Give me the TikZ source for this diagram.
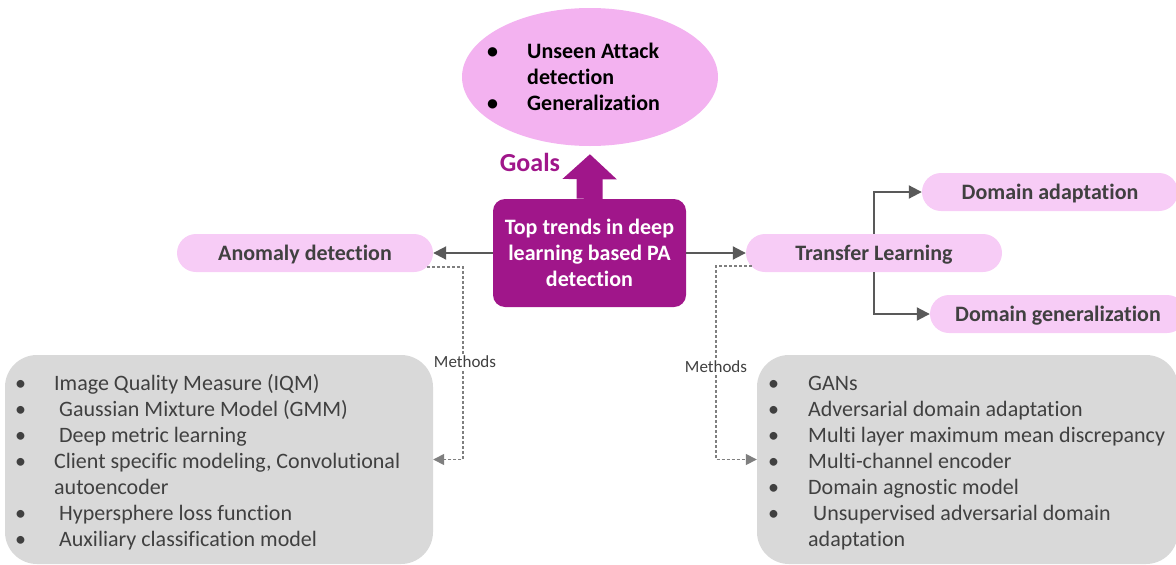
\documentclass[tikz,border=0pt]{standalone}
\usepackage{fontspec}
\setmainfont{Carlito}[Ligatures={TeX,NoCommon}]
\usetikzlibrary{arrows.meta,shapes.geometric,calc}
\definecolor{pur}{RGB}{160,22,138}
\definecolor{pill}{RGB}{247,204,246}
\definecolor{ell}{RGB}{243,178,240}
\definecolor{boxg}{RGB}{217,217,217}
\definecolor{txt}{RGB}{64,64,64}
\definecolor{arrg}{RGB}{89,89,89}
\definecolor{dashg}{RGB}{127,127,127}
\begin{document}
\begin{tikzpicture}[x=1pt,y=-1pt,
  pillbox/.style={fill=pill, rounded corners=19pt, minimum width=256pt, minimum height=38pt,
    text height=18pt, text depth=4pt,
    font=\fontsize{22}{26}\selectfont\bfseries, text=txt, inner sep=0pt},
  graybox/.style={fill=boxg, rounded corners=32pt, inner sep=0pt},
  itemtext/.style={anchor=base west, inner sep=0pt, font=\fontsize{22}{26}\selectfont, text=txt},
  goaltext/.style={anchor=base west, inner sep=0pt, font=\fontsize{22}{26}\selectfont\bfseries, text=black},
  solidarr/.style={draw=arrg, line width=2pt, -{Triangle[length=13pt,width=13pt]}, color=arrg},
  dasharr/.style={draw=dashg, line width=1.5pt, dash pattern=on 3pt off 2pt, -{Triangle[length=11pt,width=11pt]}, color=dashg},
  methlabel/.style={fill=white, inner sep=1pt, font=\fontsize{17}{19}\selectfont, text=txt}
]
\useasboundingbox (0,0) rectangle (1176,565);
\clip (0,0) rectangle (1176,565);

% goals ellipse
\node[ellipse, fill=ell, minimum width=256pt, minimum height=138pt, inner sep=0pt] (goal) at (590,77) {};
\node[goaltext] (g1) at (487,58) {\makebox[40pt][l]{\textbullet}Unseen Attack};
\node[goaltext] (g2) at (527,84) {detection};
\node[goaltext] (g3) at (487,110) {\makebox[40pt][l]{\textbullet}Generalization};

% central box
\node[fill=pur, rounded corners=12pt, minimum width=193pt, minimum height=108pt, inner sep=0pt,
  align=center, text=white, font=\fontsize{22}{26}\selectfont\bfseries] (ctr) at (589.5,253)
  {Top trends in deep\\learning based PA\\detection};

% thick goals arrow
\draw[pur, line width=26pt, -{Triangle[length=25pt,width=53pt]}, shorten >=8pt] (ctr.north) -- (goal.south);
\node[anchor=base, inner sep=0pt, text=pur, font=\fontsize{26}{30}\selectfont\bfseries] (goalslbl) at (530,171) {Goals};

% pills
\node[pillbox] (anom) at (305,253) {Anomaly detection};
\node[pillbox] (tl) at (874,253) {Transfer Learning};
\node[pillbox] (da) at (1050,192) {Domain adaptation};
\node[pillbox] (dg) at (1058,314) {Domain generalization};

% solid connectors
\draw[solidarr] (ctr.west) -- (anom.east);
\draw[solidarr] (ctr.east) -- (tl.west);
\draw[solidarr] (tl.north) |- (da.west);
\draw[solidarr] (tl.south) |- (dg.west);

% gray boxes
\node[graybox, minimum width=428pt, minimum height=209pt] (lbox) at (219,459.5) {};
\node[graybox, minimum width=421pt, minimum height=209pt] (rbox) at (967.5,459.5) {};

% left list
\node[itemtext] (l1) at (15,390) {\makebox[39pt][l]{\textbullet}Image Quality Measure (IQM)};
\node[itemtext] (l2) at (15,416) {\makebox[44pt][l]{\textbullet}Gaussian Mixture Model (GMM)};
\node[itemtext] (l3) at (15,442) {\makebox[44pt][l]{\textbullet}Deep metric learning};
\node[itemtext] (l4) at (15,468) {\makebox[39pt][l]{\textbullet}Client specific modeling, Convolutional};
\node[itemtext] (l5) at (54,494) {autoencoder};
\node[itemtext] (l6) at (15,520) {\makebox[44pt][l]{\textbullet}Hypersphere loss function};
\node[itemtext] (l7) at (15,546) {\makebox[44pt][l]{\textbullet}Auxiliary classification model};

% right list
\node[itemtext] (r1) at (768,390) {\makebox[40pt][l]{\textbullet}GANs};
\node[itemtext] (r2) at (768,416) {\makebox[40pt][l]{\textbullet}Adversarial domain adaptation};
\node[itemtext] (r3) at (768,442) {\makebox[40pt][l]{\textbullet}Multi layer maximum mean discrepancy};
\node[itemtext] (r4) at (768,468) {\makebox[40pt][l]{\textbullet}Multi-channel encoder};
\node[itemtext] (r5) at (768,494) {\makebox[40pt][l]{\textbullet}Domain agnostic model};
\node[itemtext] (r6) at (768,520) {\makebox[45pt][l]{\textbullet}Unsupervised adversarial domain};
\node[itemtext] (r7) at (808,546) {adaptation};

% dashed method connectors
\coordinate (lstart) at ($(anom.east)+(-6,14)$);
\coordinate (lcorner) at (463,267);
\draw[dasharr] (lstart) -- (lcorner) -- (lcorner |- lbox.east) -- (lbox.east);
\node[methlabel] (lmeth) at (465,362) {Methods};
\coordinate (rstart) at ($(tl.west)+(6,13)$);
\coordinate (rcorner) at (716,266);
\draw[dasharr] (rstart) -- (rcorner) -- (rcorner |- rbox.west) -- (rbox.west);
\node[methlabel] (rmeth) at (716,367) {Methods};
\end{tikzpicture}
\end{document}
